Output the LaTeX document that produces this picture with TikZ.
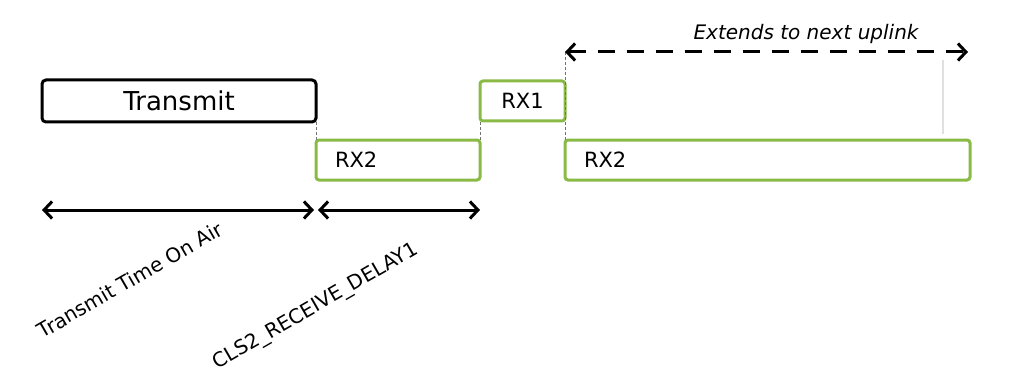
\documentclass[tikz,border=0pt]{standalone}
\usepackage{fontspec}
\setmainfont{DejaVu Sans}
\usepackage{xcolor}
\usepackage{tikz}
\usetikzlibrary{positioning,arrows.meta}

\definecolor{rxgreen}{RGB}{138,186,70}

\begin{document}
\begin{tikzpicture}[
				x=1pt, y=-1pt,
				every node/.style={font=\fontsize{20}{24}\selectfont},
				txbox/.style={
						draw=black,
						rectangle,
						rounded corners=4pt,
						line width=3pt,
						minimum width=274pt,
						minimum height=42pt,
						inner sep=0pt,
						outer sep=0pt,
						font=\fontsize{26}{30}\selectfont
					},
				rxbox/.style={
						draw=rxgreen,
						rectangle,
						rounded corners=3pt,
						line width=3pt,
						minimum height=40pt,
						inner xsep=19pt,
						inner ysep=0pt,
						outer sep=0pt,
						align=left,
						font=\fontsize{21}{25}\selectfont
					},
				guide/.style={densely dashed, black!55, line width=1pt},
				dimarrow/.style={{Straight Barb[length=8pt,width=17pt,line width=3pt]}-{Straight Barb[length=8pt,width=17pt,line width=3pt]}, line width=3pt},
				lbl/.style={rotate=30, inner sep=0pt}
			]
		\useasboundingbox (0,0) rectangle (1019,385);

		% Windows - transmit, then the two receive slots
		\node[txbox] (tx) at (179,101) {Transmit};
		\node[rxbox, minimum width=164pt, text width=126pt] (rx2a) at (398,160) {RX2};
		\node[rxbox, minimum width=85pt, align=center, inner xsep=0pt] (rx1) at (522.5,101) {RX1};
		\node[rxbox, minimum width=405pt, text width=367pt] (rx2b) at (767.5,160) {RX2};

		% Rows for the dimension lines
		\coordinate (dimrow) at (0,210);
		\coordinate (extrow) at (0,52);

		% Guides between the slots
		\draw[guide] (tx.south east) -- (rx2a.north west);
		\draw[guide] (rx2a.north east) -- (rx1.south west);
		\draw[guide] (rx2b.west |- extrow) -- (rx2b.north west);
		\draw[black!12, line width=1.5pt] (943,60) -- (943,134);

		% Timing arrows
		\draw[dimarrow, shorten >=2pt] (tx.west |- dimrow) -- (tx.east |- dimrow);
		\draw[dimarrow, shorten <=2pt] (rx2a.west |- dimrow) -- (rx2a.east |- dimrow);
		\draw[dimarrow, dashed, dash pattern=on 17pt off 12pt, shorten >=2pt] (rx2b.west |- extrow) -- (rx2b.east |- extrow);

		% Labels
		\node[font=\fontsize{20}{24}\selectfont\itshape] (ext) at (806,34) {Extends to next uplink};
		\node[lbl] (toa) at (130,280) {Transmit Time On Air};
		\node[lbl] (delay) at (316,307) {CLS2\_RECEIVE\_DELAY1};
	\end{tikzpicture}
\end{document}
